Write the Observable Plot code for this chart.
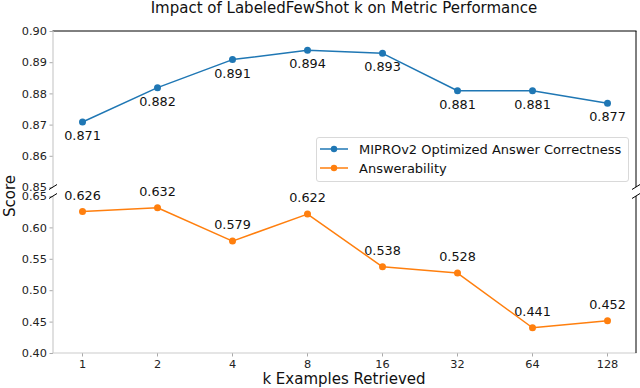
<!DOCTYPE html>
<html>
<head>
<meta charset="utf-8">
<script src="https://cdn.jsdelivr.net/npm/d3@7"></script>
<script src="https://cdn.jsdelivr.net/npm/@observablehq/plot@0.6"></script>
<style>
  html, body { margin: 0; padding: 0; background: #fff; }
  #wrap { position: relative; width: 640px; height: 388px; font-family: "DejaVu Sans", sans-serif; color: #111; overflow: hidden; }
  #wrap svg { position: absolute; left: 0; }
  .title { position: absolute; left: 0; width: 688px; top: -1px; text-align: center; font-size: 15px; line-height: 18px; }
  .xlabel { position: absolute; left: 0; width: 688px; top: 370px; text-align: center; font-size: 15px; line-height: 18px; }
  .ylabel { position: absolute; left: 10px; top: 196px; transform: translate(-50%, -50%) rotate(-90deg); font-size: 15px; white-space: nowrap; }
  .legend { position: absolute; left: 316px; top: 137px; width: 311px; height: 43px; border: 1px solid #d9d9d9; border-radius: 3px; background: rgba(255,255,255,0.85); font-size: 13px; }
  .legend .item { position: absolute; left: 3px; height: 18px; display: flex; align-items: center; white-space: nowrap; }
  .legend svg { position: static !important; margin-right: 11px; }
</style>
</head>
<body>
<div id="wrap"></div>
<script>
const kValues = ["1", "2", "4", "8", "16", "32", "64", "128"];
const correctness = [0.871, 0.882, 0.891, 0.894, 0.893, 0.881, 0.881, 0.877];
const answerability = [0.626, 0.632, 0.579, 0.622, 0.538, 0.528, 0.441, 0.452];
const seriesNames = ["MIPROv2 Optimized Answer Correctness", "Answerability"];
const seriesColors = ["#1f77b4", "#ff7f0e"];
const topTicks = [0.85, 0.86, 0.87, 0.88, 0.89, 0.90];
const bottomTicks = [0.40, 0.45, 0.50, 0.55, 0.60, 0.65];
const titleText = "Impact of LabeledFewShot k on Metric Performance";
const xLabel = "k Examples Retrieved";
const yLabel = "Score";

const topData = kValues.map((k, i) => ({k, value: correctness[i]}));
const bottomData = kValues.map((k, i) => ({k, value: answerability[i]}));

const wrap = document.getElementById("wrap");
const W = 640;
const ML = 53, MR = 4;
const TICK_FS = 11.3, LABEL_FS = 12.8;
const baseStyle = {background: "none", overflow: "visible", fontFamily: "DejaVu Sans, sans-serif", fontSize: TICK_FS + "px", color: "#222"};

function spines(svg, plot, opts) {
  const [x0, x1] = plot.scale("x").range;
  const [yb, yt] = plot.scale("y").range;
  const s = d3.select(svg);
  const line = (xa, ya, xb, yb2, c, w) => s.append("line").attr("x1", xa).attr("y1", ya).attr("x2", xb).attr("y2", yb2).attr("stroke", c).attr("stroke-width", w);
  const L = x0, R = x1;
  if (opts.top) line(L - 0.5, yt, R + 0.5, yt, "#000", 1);
  if (opts.bottom) line(L - 0.5, yb, R + 0.5, yb, "#ccc", 1.2);
  line(L, yt, L, yb, "#ccc", 1.2);
  line(R, yt, R, yb, "#000", 1);
  // break marks
  const by = opts.top ? yb : yt;
  [L, R].forEach(xx => {
    s.append("path").attr("d", `M${xx - 4},${by + 2.5} L${xx + 4},${by - 2.5}`).attr("stroke", "#000").attr("fill", "none").attr("stroke-width", 1);
  });
}

// Top panel (0.85 - 0.90)
const H1 = 190;
const topPlot = Plot.plot({
  width: W, height: H1,
  marginLeft: ML, marginRight: MR, marginTop: 31, marginBottom: 3,
  style: baseStyle,
  x: {type: "point", domain: kValues, padding: 0.35, axis: null},
  y: {domain: [0.85, 0.90], axis: null},
  marks: [
    Plot.axisY({ticks: topTicks, tickFormat: d3.format(".2f"), tickSize: 3.5, tickPadding: 3, stroke: "#aaa", fill: "#222", fontSize: TICK_FS, label: null}),
    Plot.line(topData, {x: "k", y: "value", stroke: seriesColors[0], strokeWidth: 1.5}),
    Plot.dot(topData, {x: "k", y: "value", fill: seriesColors[0], r: 3.5}),
    Plot.text(topData, {x: "k", y: "value", text: d => d.value.toFixed(3), dy: 14, fontSize: LABEL_FS, fill: "#111"})
  ]
});
topPlot.style.top = "0px";
wrap.appendChild(topPlot);
spines(topPlot, topPlot, {top: true});

// Bottom panel (0.40 - 0.65)
const H2 = 198;
const bottomPlot = Plot.plot({
  width: W, height: H2,
  marginLeft: ML, marginRight: MR, marginTop: 6, marginBottom: 35,
  style: baseStyle,
  x: {type: "point", domain: kValues, padding: 0.35, axis: null},
  y: {domain: [0.40, 0.65], axis: null},
  marks: [
    Plot.axisY({ticks: bottomTicks, tickFormat: d3.format(".2f"), tickSize: 3.5, tickPadding: 3, stroke: "#aaa", fill: "#222", fontSize: TICK_FS, label: null}),
    Plot.axisX({tickSize: 3.5, tickPadding: 3, stroke: "#aaa", fill: "#222", fontSize: TICK_FS, label: null}),
    Plot.line(bottomData, {x: "k", y: "value", stroke: seriesColors[1], strokeWidth: 1.5}),
    Plot.dot(bottomData, {x: "k", y: "value", fill: seriesColors[1], r: 3.5}),
    Plot.text(bottomData, {x: "k", y: "value", text: d => d.value.toFixed(3), dy: -16, fontSize: LABEL_FS, fill: "#111"})
  ]
});
bottomPlot.style.top = "190px";
wrap.appendChild(bottomPlot);
spines(bottomPlot, bottomPlot, {bottom: true});

// Title and axis labels
const t = document.createElement("div"); t.className = "title"; t.textContent = titleText; wrap.appendChild(t);
const xl = document.createElement("div"); xl.className = "xlabel"; xl.textContent = xLabel; wrap.appendChild(xl);
const yl = document.createElement("div"); yl.className = "ylabel"; yl.textContent = yLabel; wrap.appendChild(yl);

// Legend
const lg = document.createElement("div"); lg.className = "legend";
seriesNames.forEach((name, i) => {
  const it = document.createElement("div"); it.className = "item"; it.style.top = (2 + i * 19) + "px";
  const sw = d3.create("svg").attr("width", 28).attr("height", 10);
  sw.append("line").attr("x1", 0).attr("x2", 28).attr("y1", 5).attr("y2", 5).attr("stroke", seriesColors[i]).attr("stroke-width", 1.5);
  sw.append("circle").attr("cx", 14).attr("cy", 5).attr("r", 3.2).attr("fill", seriesColors[i]);
  it.appendChild(sw.node());
  const sp = document.createElement("span"); sp.textContent = name; it.appendChild(sp);
  lg.appendChild(it);
});
wrap.appendChild(lg);
</script>
</body>
</html>
